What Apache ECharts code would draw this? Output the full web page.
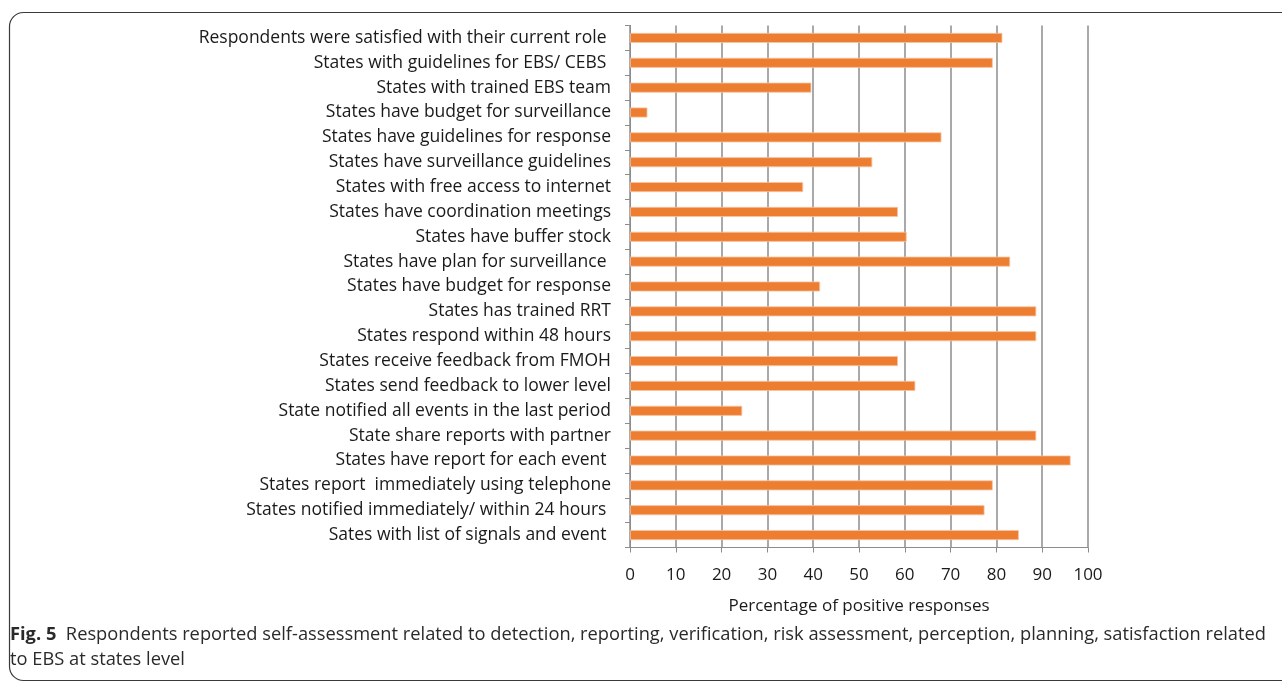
<!DOCTYPE html>
<html>
<head>
<meta charset="utf-8">
<script src="https://cdn.jsdelivr.net/npm/echarts@6/dist/echarts.min.js"></script>
<style>
html,body{margin:0;padding:0;background:#fff;}
#chart{width:1282px;height:682px;}
</style>
</head>
<body>
<div id="chart"></div>
<script>
const categories = [
  "Respondents were satisfied with their current role ",
  "States with guidelines for EBS/ CEBS ",
  "States with trained EBS team",
  "States have budget for surveillance",
  "States have guidelines for response",
  "States have surveillance guidelines",
  "States with free access to internet",
  "States have coordination meetings",
  "States have buffer stock",
  "States have plan for surveillance ",
  "States have budget for response",
  "States has trained RRT",
  "States respond within 48 hours",
  "States receive feedback from FMOH",
  "States send feedback to lower level",
  "State notified all events in the last period",
  "State share reports with partner",
  "States have report for each event ",
  "States report  immediately using telephone",
  "States notified immediately/ within 24 hours ",
  "Sates with list of signals and event "
];
const values = [81.3, 79.2, 39.6, 3.8, 68.0, 52.9, 37.8, 58.5, 60.4, 83.0, 41.5, 88.7, 88.7, 58.5, 62.3, 24.5, 88.7, 96.2, 79.2, 77.4, 84.9];
const xTicks = [0, 10, 20, 30, 40, 50, 60, 70, 80, 90, 100];
const xAxisTitle = "Percentage of positive responses";
const captionBold = "Fig. 5";
const captionLine1 = "  Respondents reported self-assessment related to detection, reporting, verification, risk assessment, perception, planning, satisfaction related";
const captionLine2 = "to EBS at states level";

const chart = echarts.init(document.getElementById('chart'), null, {renderer: 'canvas'});
const labelFont = "'Open Sans', sans-serif";
chart.setOption({
  animation: false,
  backgroundColor: '#fff',
  grid: {left: 630, right: 194, top: 25.5, bottom: 134.5, containLabel: false},
  xAxis: {
    type: 'value', min: xTicks[0], max: xTicks[xTicks.length - 1], interval: 10,
    axisLine: {show: true, lineStyle: {color: '#8c8c8c', width: 1}},
    axisTick: {show: true, length: 5, lineStyle: {color: '#8c8c8c'}},
    splitLine: {show: true, lineStyle: {color: '#8c8c8c', width: 1.5}},
    axisLabel: {color: '#1a1a1a', fontSize: 17, fontFamily: labelFont, margin: 19},
    name: xAxisTitle, nameLocation: 'middle', nameGap: 50,
    nameTextStyle: {color: '#1a1a1a', fontSize: 17, fontFamily: labelFont}
  },
  yAxis: {
    type: 'category', data: categories, inverse: true,
    axisLine: {show: true, lineStyle: {color: '#8c8c8c', width: 1}},
    axisTick: {show: true, length: 5, lineStyle: {color: '#8c8c8c'}},
    axisLabel: {color: '#1a1a1a', fontSize: 17.5, fontFamily: labelFont, margin: 19, padding: [3, 0, 0, 0]}
  },
  series: [{
    type: 'bar', data: values, barWidth: 10,
    itemStyle: {color: '#ED7D31', borderColor: '#f6c4a2', borderWidth: 0.8}
  }],
  graphic: [
    {type: 'rect', left: 7, top: 10, shape: {width: 1290, height: 668, r: 14},
     style: {fill: 'none', stroke: '#3a3a3a', lineWidth: 1.2}, z: 100},
    {type: 'text', left: 10, top: 626, z: 100,
     style: {
       text: '{b|' + captionBold + '}{n|' + captionLine1 + '}\n{n|' + captionLine2 + '}',
       rich: {
         b: {fontWeight: 'bold', fontSize: 18.3, fill: '#2a2a2a', fontFamily: "'Open Sans', sans-serif", lineHeight: 25},
         n: {fontSize: 18.3, fill: '#2a2a2a', fontFamily: "'Open Sans', sans-serif", lineHeight: 25}
       }
     }}
  ]
});
</script>
</body>
</html>
